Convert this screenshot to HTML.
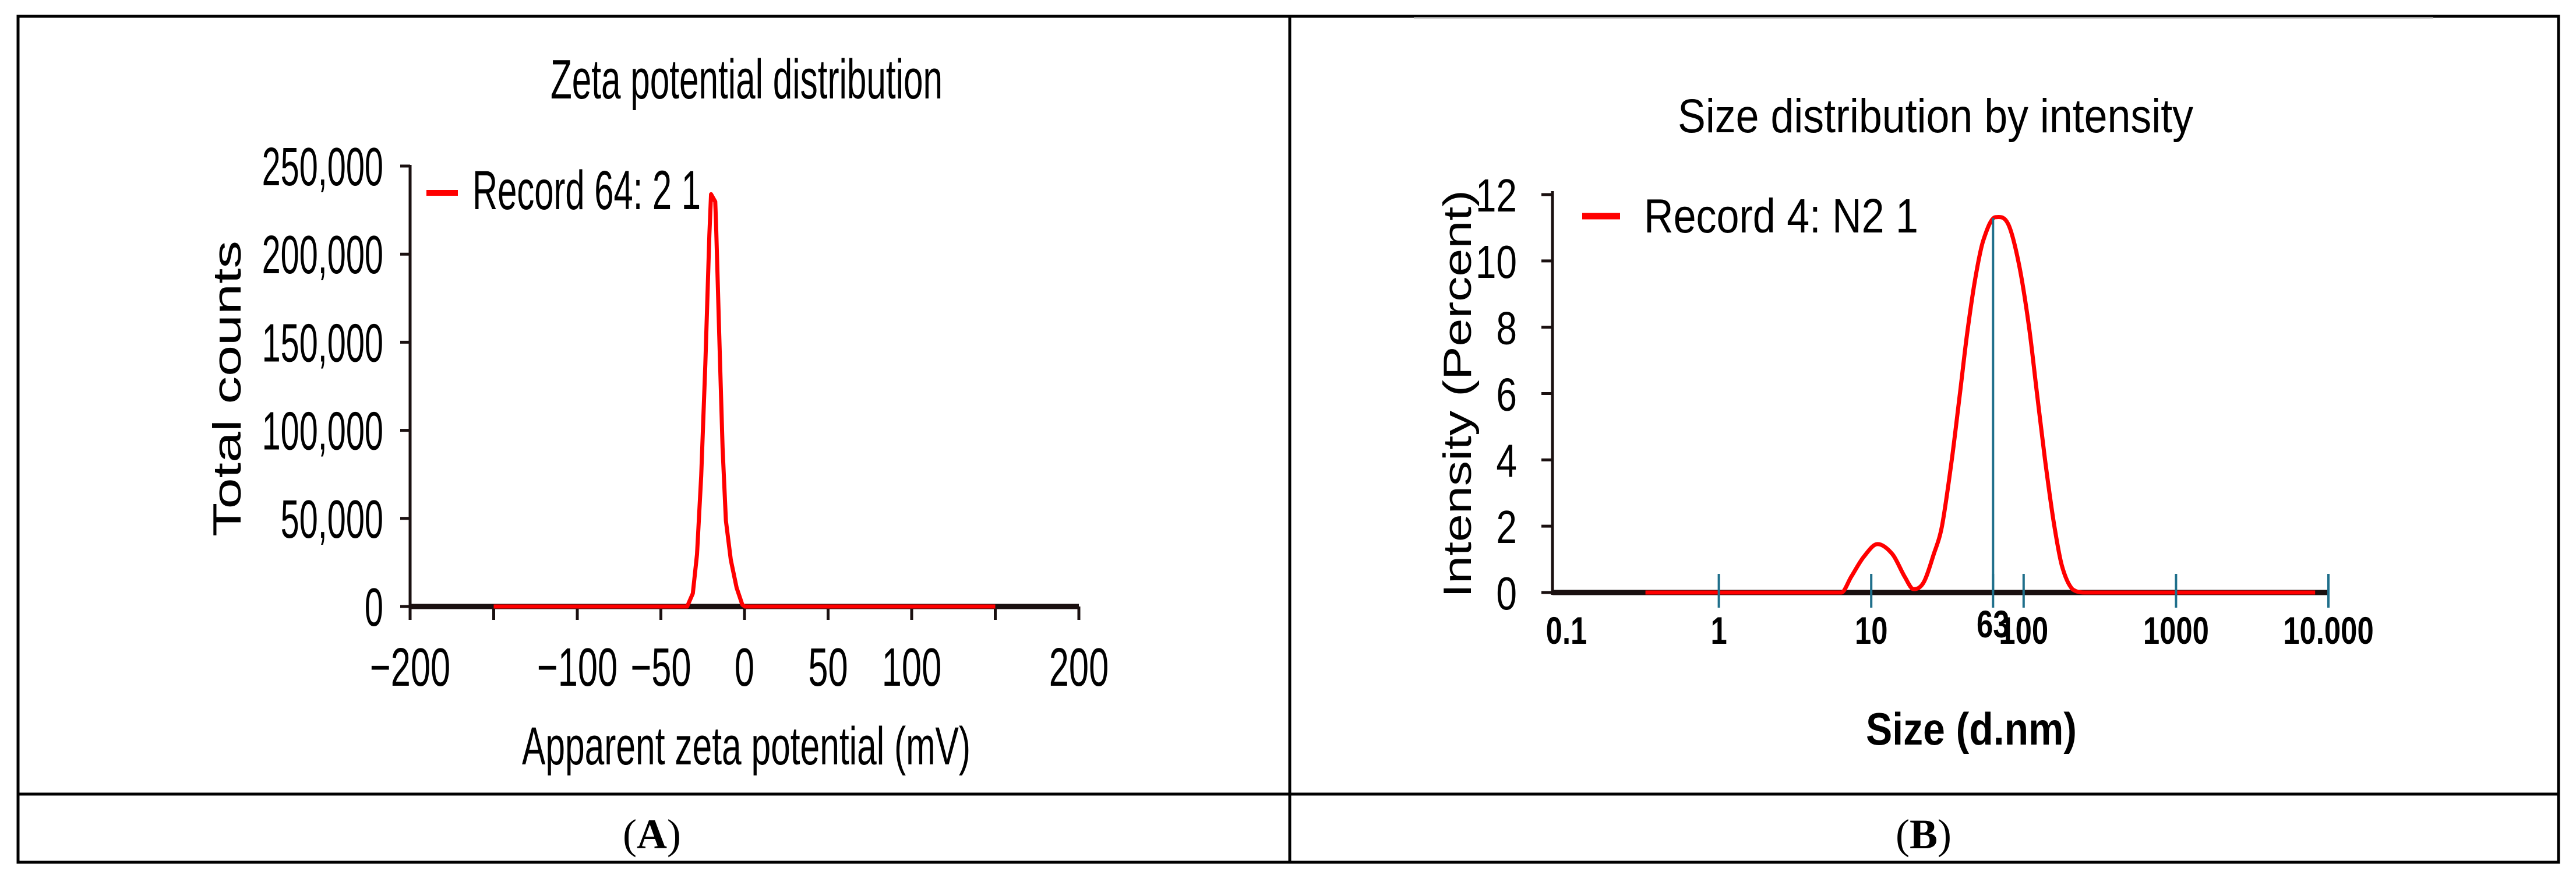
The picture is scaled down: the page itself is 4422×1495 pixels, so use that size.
<!DOCTYPE html>
<html><head><meta charset="utf-8"><style>
html,body{margin:0;padding:0;background:#fff;}
svg{display:block;}
text{font-family:"Liberation Sans",sans-serif;fill:#000;}
</style></head><body>
<svg id="fig" xmlns="http://www.w3.org/2000/svg" width="4422" height="1495" viewBox="0 0 4422 1495">
<rect x="0" y="0" width="4422" height="1495" fill="#fff"/>
<g stroke="#000" stroke-width="5" fill="none">
<rect x="31" y="28" width="4361" height="1452"/>
<line x1="2214" y1="28" x2="2214" y2="1480"/>
<line x1="31" y1="1363" x2="4392" y2="1363"/>
</g>
<line x1="2427" y1="31" x2="4177" y2="31" stroke="#ccc" stroke-width="3"/>
<text x="1119" y="1456" text-anchor="middle" style="font-family:'Liberation Serif',serif;font-size:72px">(<tspan font-weight="bold">A</tspan>)</text>
<text x="3302" y="1456" text-anchor="middle" style="font-family:'Liberation Serif',serif;font-size:72px">(<tspan font-weight="bold">B</tspan>)</text>

<g id="chartA"></g>
<g id="chartB"></g>
</svg>
<script>
// ---- Chart A data ----
const zetaMv = [-150,-34.3,-30.9,-28.4,-25.9,-23.4,-21.0,-20.0,-17.5,-17.0,-15.1,-13.1,-11.1,-8.2,-4.7,-1.3,0.2,150];
const zetaCounts = [0,0,7400,29600,74100,137700,210800,234000,229800,217100,153600,90000,48700,26500,10600,1000,0,0];
const zetaXTicks = [-200,-150,-100,-50,0,50,100,150,200];
const zetaXLabels = [-200,-100,-50,0,50,100,200];
const zetaYTicks = [0,50000,100000,150000,200000,250000];
const zetaYLabels = ["0","50,000","100,000","150,000","200,000","250,000"];

// ---- Chart B data ----
const sizeNm = [0.33,6.36,7.38,8.91,11.0,13.8,16.6,19.0,22.1,25.7,29.1,33.8,38.3,42.4,48.0,54.3,65.5,79.0,92.9,108,122,138,157,178,209,258,8180];
const intensityPct = [0,0,0.47,1.07,1.46,1.15,0.47,0.10,0.31,1.15,2.00,4.02,6.05,7.74,9.43,10.61,11.32,11.12,9.93,8.08,6.05,4.02,2.17,0.82,0.10,0,0];
const sizeTicks = [1,10,63,100,1000,10000];
const sizeLabelValues = [0.1,1,10,63,100,1000,10000];
const sizeLabels = ["0.1","1","10","63","100","1000","10.000"];
const peakSize = 63;
const peakIntensity = 11.3;
const intYTicks = [0,2,4,6,8,10,12];

const NS="http://www.w3.org/2000/svg";
function mk(tag,attrs,parent){const e=document.createElementNS(NS,tag);for(const k in attrs)e.setAttribute(k,attrs[k]);parent.appendChild(e);return e;}
function condText(parent,str,x,y,size,sx,anchor,weight){
  const t=mk('text',{transform:`translate(${x},${y}) scale(${sx},1)`,'text-anchor':anchor,'font-size':size,'font-weight':weight||'normal'},parent);
  t.textContent=str;return t;
}

// ===== Chart A =====
(function(){
  const g=document.getElementById('chartA');
  const xs=v=>1278+v*2.87;
  const ys=v=>1041-v*(756/250000);
  let t=mk('text',{x:945,y:169,'font-size':96,textLength:673,lengthAdjust:'spacingAndGlyphs'},g);
  t.textContent='Zeta potential distribution';
  
  
  t=mk('text',{x:896,y:1312,'font-size':92,textLength:770,lengthAdjust:'spacingAndGlyphs'},g);
  t.textContent='Apparent zeta potential (mV)';
  
  
  t=mk('text',{transform:'translate(413,921) rotate(-90)','font-size':68,textLength:508,lengthAdjust:'spacingAndGlyphs'},g);
  t.textContent='Total counts';
  
  
  let a=mk('line',{x1:704,y1:ys(250000)-2,x2:704,y2:1045,stroke:'#1a1010','stroke-width':5},g);
  
  
  a=mk('line',{x1:xs(-200),y1:1041,x2:xs(200),y2:1041,stroke:'#1a1010','stroke-width':9},g);
  
  
  zetaYTicks.forEach((v,i)=>{
    const l=mk('line',{x1:687,y1:ys(v),x2:704,y2:ys(v),stroke:'#1a1010','stroke-width':5},g);
    
    
    const tx=condText(g,zetaYLabels[i],658,ys(v)+33,93,0.62,'end');
    
    
  });
  zetaXTicks.forEach(v=>{
    const l=mk('line',{x1:xs(v),y1:1041,x2:xs(v),y2:1064,stroke:'#1a1010','stroke-width':5},g);
    
    
  });
  zetaXLabels.forEach(v=>{
    const s=v<0?'\u2212'+Math.abs(v):String(v);
    const tx=condText(g,s,xs(v),1177,93,0.66,'middle');
    
    
  });
  const pts=zetaMv.map((v,i)=>`${xs(v).toFixed(1)},${ys(zetaCounts[i]).toFixed(1)}`).join(' ');
  const p=mk('polyline',{points:pts,fill:'none',stroke:'#ff0000','stroke-width':7,'stroke-linejoin':'round'},g);
  
  
  const lg=mk('line',{x1:732,y1:331,x2:786,y2:331,stroke:'#ff0000','stroke-width':10},g);
  
  
  t=mk('text',{x:811,y:359,'font-size':95,textLength:392,lengthAdjust:'spacingAndGlyphs'},g);
  t.textContent='Record 64: 2 1';
  
  
})();

// ===== Chart B =====
(function(){
  const g=document.getElementById('chartB');
  const xs=v=>2689+261.6*(Math.log10(v)+1);
  const ys=v=>1017-v*(683/12);
  let t=mk('text',{x:2880,y:227,'font-size':82,textLength:885,lengthAdjust:'spacingAndGlyphs'},g);
  t.textContent='Size distribution by intensity';
  
  
  t=mk('text',{x:3203,y:1278,'font-size':78,'font-weight':'bold',textLength:362,lengthAdjust:'spacingAndGlyphs'},g);
  t.textContent='Size (d.nm)';
  
  
  t=mk('text',{transform:'translate(2525,1026) rotate(-90)','font-size':68,textLength:700,lengthAdjust:'spacingAndGlyphs'},g);
  t.textContent='Intensity (Percent)';
  
  
  let a=mk('line',{x1:2665,y1:ys(12)-6,x2:2665,y2:1021,stroke:'#1a1010','stroke-width':5},g);
  
  
  a=mk('line',{x1:2665,y1:1017,x2:xs(10000),y2:1017,stroke:'#1a1010','stroke-width':9},g);
  
  
  intYTicks.forEach(v=>{
    const l=mk('line',{x1:2646,y1:ys(v),x2:2665,y2:ys(v),stroke:'#1a1010','stroke-width':5},g);
    
    
    const tx=condText(g,String(v),2604,ys(v)+29,80,0.8,'end');
    
    
  });
  // curve: cubic Hermite with slope-based tangents (no overshoot in x)
  const P=sizeNm.map((v,i)=>[xs(v),ys(intensityPct[i])]);
  const n=P.length;
  const m=P.map((p,i)=>{
    if(i===0||i===n-1) return 0;
    const s0=(P[i][1]-P[i-1][1])/(P[i][0]-P[i-1][0]);
    const s1=(P[i+1][1]-P[i][1])/(P[i+1][0]-P[i][0]);
    if(s0*s1<=0) return 0;
    return (P[i+1][1]-P[i-1][1])/(P[i+1][0]-P[i-1][0]);
  });
  let d=`M${P[0][0].toFixed(1)},${P[0][1].toFixed(1)}`;
  for(let i=0;i<n-1;i++){
    const dx=P[i+1][0]-P[i][0];
    const c1=[P[i][0]+dx/3,Math.min(1017,P[i][1]+m[i]*dx/3)];
    const c2=[P[i+1][0]-dx/3,Math.min(1017,P[i+1][1]-m[i+1]*dx/3)];
    d+=` C${c1[0].toFixed(1)},${c1[1].toFixed(1)} ${c2[0].toFixed(1)},${c2[1].toFixed(1)} ${P[i+1][0].toFixed(1)},${P[i+1][1].toFixed(1)}`;
  }
  const c=mk('path',{d:d,fill:'none',stroke:'#ff0000','stroke-width':7,'stroke-linejoin':'round'},g);
  
  
  sizeTicks.forEach(v=>{
    const l=mk('line',{x1:xs(v),y1:985,x2:xs(v),y2:1043,stroke:'#1f6f8b','stroke-width':4},g);
    
    
  });
  const pl=mk('line',{x1:xs(peakSize),y1:ys(peakIntensity),x2:xs(peakSize),y2:1017,stroke:'#1f6f8b','stroke-width':4},g);
  
  
  sizeLabelValues.forEach((v,i)=>{
    const yy=(v===peakSize)?1094:1105;
    const tx=condText(g,sizeLabels[i],xs(v),yy,66,0.77,'middle','bold');
    
    
  });
  const lg=mk('line',{x1:2716,y1:371,x2:2781,y2:371,stroke:'#ff0000','stroke-width':11},g);
  
  
  t=mk('text',{x:2822,y:399,'font-size':83,textLength:471,lengthAdjust:'spacingAndGlyphs'},g);
  t.textContent='Record 4: N2 1';
  
  
})();
</script>
</body></html>
